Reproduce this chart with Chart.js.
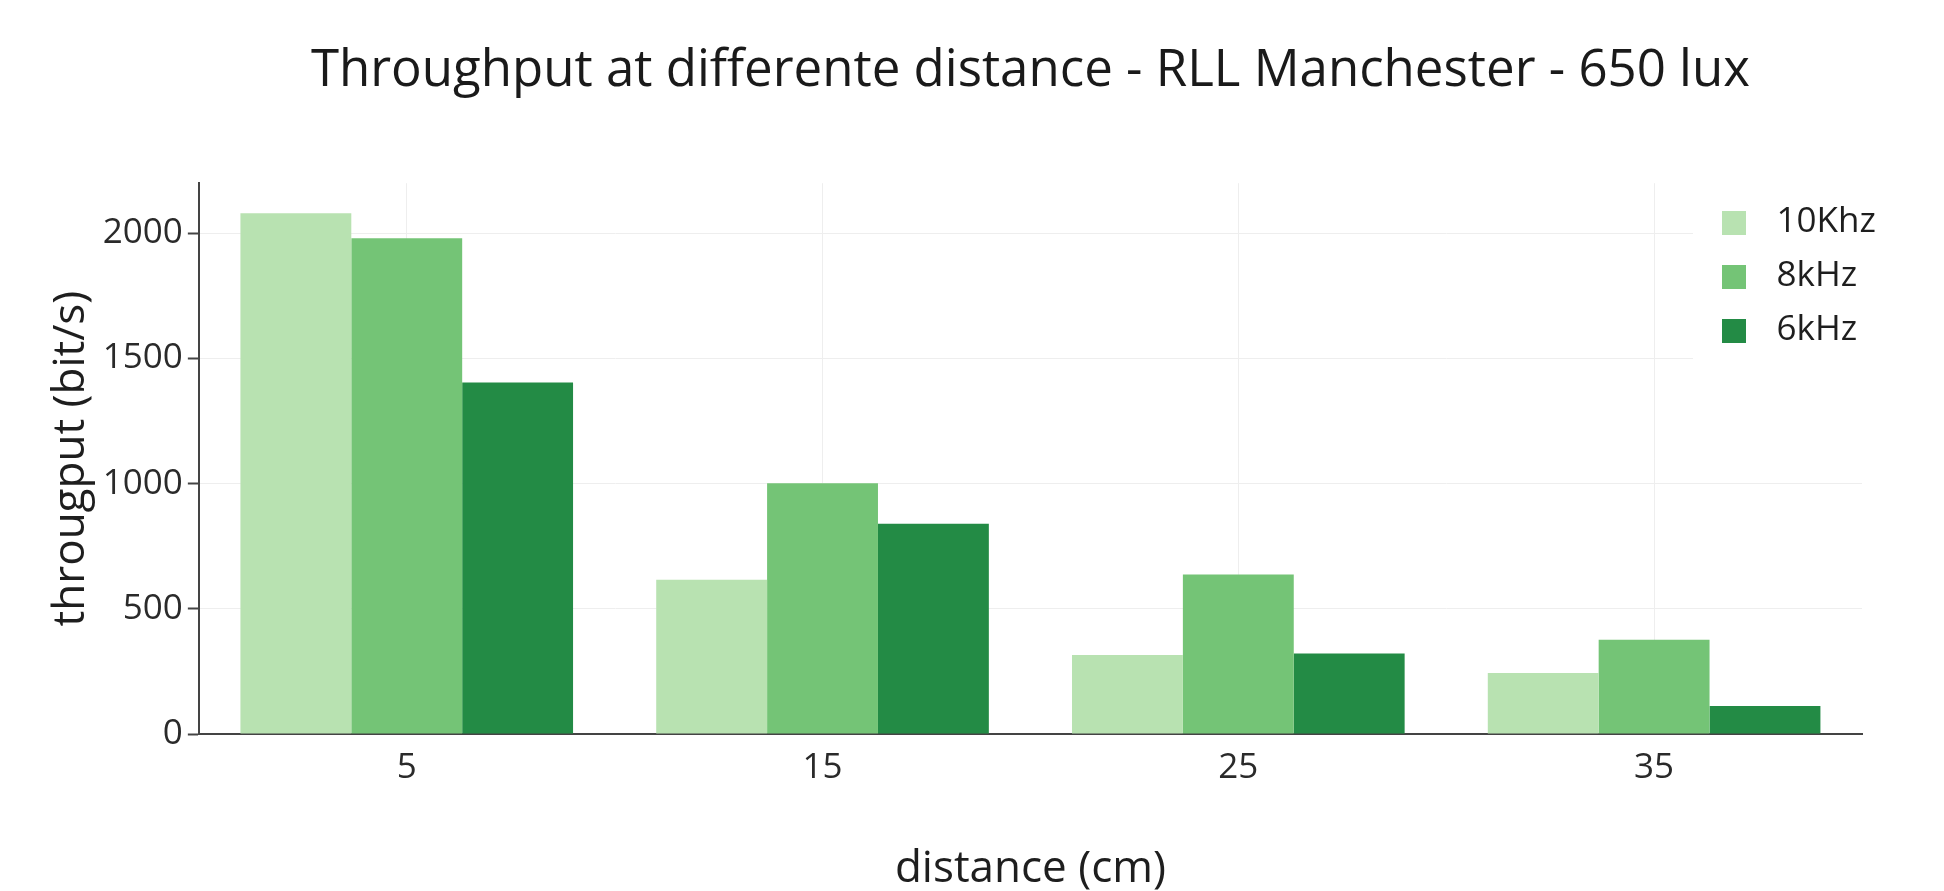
<!DOCTYPE html>
<html lang="en">
<head>
    <meta charset="UTF-8" />
    <title>Throughput at differente distance</title>
    <script src="https://cdn.jsdelivr.net/npm/chart.js"></script>
    <style>
        html, body {
          margin: 0;
          padding: 0;
          background: #fff;
          overflow: hidden;
        }

        .chart-container {
          position: relative;
          width: 1944px;
          height: 891px;
        }
    </style>
</head>
<body>

<div class="chart-container">
    <canvas id="tpChart"></canvas>
</div>

<script>
    // values
    const distances = ['5', '15', '25', '35'];
    const tp10k = [2080, 616, 316, 244];
    const tp8k = [1980, 1002, 637, 376];
    const tp6k = [1404, 840, 322, 112];
    const seriesNames = ['10Khz', '8kHz', '6kHz'];
    const seriesColors = ['#b8e2b1', '#74c476', '#238b45'];
    const yTickValues = [0, 500, 1000, 1500, 2000];

    const FONT = '"Open Sans", "Noto Sans", sans-serif';

    // small square swatches so the legend gap matches plotly's
    const swatches = seriesColors.map(c => {
      const cv = document.createElement('canvas');
      cv.width = 24;
      cv.height = 24;
      const g = cv.getContext('2d');
      g.fillStyle = c;
      g.fillRect(0, 0, 24, 24);
      return cv;
    });

    // put the legend in the top right corner of the plot, on a white box
    const legendPlacer = {
      id: 'legendPlacer',
      afterLayout(chart) {
        const lg = chart.legend;
        if (!lg) return;
        lg.left = 1689;
        lg.right = chart.width;
        lg.top = 186;
        lg.bottom = chart.chartArea.bottom;
      },
      beforeDatasetsDraw(chart) {
        const lg = chart.legend;
        const ctx = chart.ctx;
        ctx.save();
        ctx.fillStyle = '#fff';
        ctx.fillRect(1693, 196, chart.width - 1693, 172);
        ctx.restore();
        lg.draw();
      }
    };

    new Chart(document.getElementById('tpChart'), {
      type: 'bar',
      data: {
        labels: distances,
        datasets: [
          { label: seriesNames[0], data: tp10k, backgroundColor: seriesColors[0] },
          { label: seriesNames[1], data: tp8k, backgroundColor: seriesColors[1] },
          { label: seriesNames[2], data: tp6k, backgroundColor: seriesColors[2] }
        ]
      },
      options: {
        responsive: true,
        maintainAspectRatio: false,
        animation: false,
        datasets: {
          bar: {
            categoryPercentage: 0.8,
            barPercentage: 1.0,
            borderWidth: 0
          }
        },
        layout: {
          padding: { left: 0, right: 82, top: 0, bottom: 0 }
        },
        scales: {
          x: {
            grid: {
              offset: false,
              color: '#eeeeee',
              lineWidth: 1,
              drawTicks: false
            },
            border: { display: true, color: '#444', width: 2 },
            ticks: {
              color: '#2a2a2a',
              padding: 13,
              font: { family: FONT, size: 35 }
            },
            title: {
              display: true,
              text: 'distance (cm)',
              color: '#1e1e1e',
              font: { family: FONT, size: 44, lineHeight: 1.0 },
              padding: { top: 45, bottom: 0 }
            }
          },
          y: {
            min: 0,
            max: 2200,
            afterBuildTicks: axis => {
              axis.ticks = yTickValues.map(v => ({ value: v }));
            },
            grid: {
              color: c => (c.tick && c.tick.value === 0) ? 'rgba(0,0,0,0)' : '#eeeeee',
              lineWidth: 1,
              tickColor: '#444',
              tickLength: 11,
              tickWidth: 2
            },
            border: { display: true, color: '#444', width: 2 },
            ticks: {
              autoSkip: false,
              color: '#2a2a2a',
              padding: 5,
              font: { family: FONT, size: 35 },
              callback: v => String(v)
            },
            title: {
              display: true,
              text: 'througput (bit/s)',
              color: '#1e1e1e',
              font: { family: FONT, size: 44 },
              padding: { top: 45, bottom: 0 }
            }
          }
        },
        plugins: {
          title: {
            display: true,
            fullSize: false,
            text: 'Throughput at differente distance - RLL Manchester - 650 lux',
            color: '#1a1a1a',
            font: { family: FONT, size: 51, weight: 'normal' },
            padding: { top: 41, bottom: 81 }
          },
          legend: {
            position: 'chartArea',
            align: 'start',
            labels: {
              usePointStyle: true,
              pointStyleWidth: 51,
              padding: 19,
              color: '#1e1e1e',
              font: { family: FONT, size: 35 },
              generateLabels: chart => {
                const items = Chart.defaults.plugins.legend.labels.generateLabels(chart);
                return items.map((it, i) => Object.assign(it, { pointStyle: swatches[i] }));
              }
            }
          },
          tooltip: { enabled: false }
        }
      },
      plugins: [legendPlacer]
    });
</script>

</body>
</html>
